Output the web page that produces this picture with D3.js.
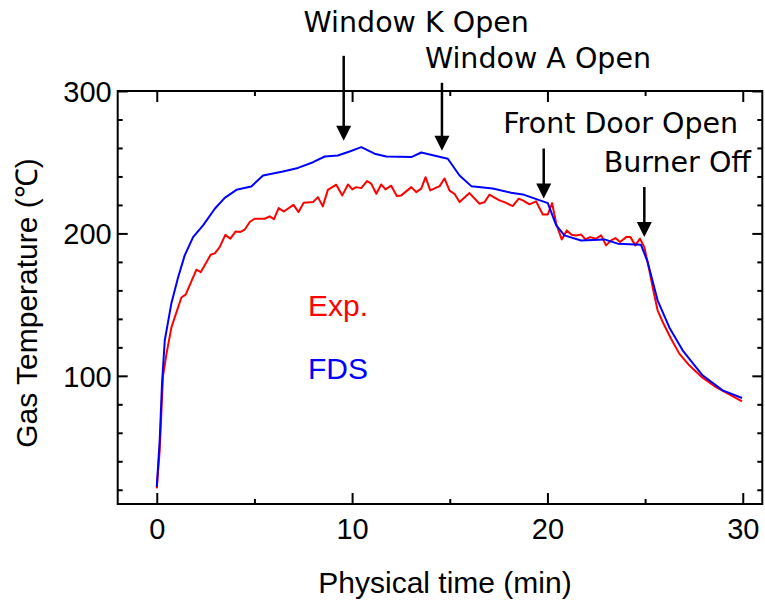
<!DOCTYPE html>
<html>
<head>
<meta charset="utf-8">
<script src="https://cdn.jsdelivr.net/npm/d3@7"></script>
<style>
  body { margin: 0; background: #fff; }
  .tick text { font-family: "Liberation Sans", Arial, sans-serif; font-size: 29px; fill: #000; }
  .tick line { stroke: #000; stroke-width: 2; }
</style>
</head>
<body>
<div id="chart"></div>
<script>
// Exp. series (time in min, temperature in degC)
var expTime = [0, 0.15, 0.32, 0.5, 0.75, 1.26, 1.48, 2.03, 2.25, 2.76, 2.97, 3.22, 3.51, 3.77, 4.04, 4.28, 4.5, 4.76, 5.01, 5.52, 5.78, 6.0, 6.24, 6.5, 7.0, 7.26, 7.52, 8.0, 8.25, 8.5, 8.76, 9.19, 9.5, 9.79, 10.01, 10.21, 10.47, 10.76, 10.98, 11.24, 11.49, 11.71, 12.0, 12.29, 12.52, 13.03, 13.28, 13.54, 13.76, 14.0, 14.48, 14.73, 14.99, 15.24, 15.5, 16.01, 16.52, 16.78, 17.03, 17.54, 17.8, 18.22, 18.53, 18.74, 19.08, 19.42, 19.76, 20.02, 20.24, 20.45, 20.73, 20.99, 21.24, 21.47, 21.72, 21.94, 22.18, 22.49, 22.75, 23.0, 23.26, 23.48, 23.72, 24.03, 24.25, 24.5, 24.74, 24.96, 25.22, 25.42, 25.64, 25.9, 26.33, 26.75, 27.26, 27.94, 28.63, 29.31, 29.96];
var expTemp = [21, 47.7, 100, 115.6, 134, 155, 157, 174.5, 172.8, 185, 186, 190.4, 199, 196.3, 201.4, 201, 202.6, 208, 210.3, 210.3, 212, 210, 217.8, 215.4, 220, 215, 221.5, 222, 225.5, 219, 230.6, 234.2, 226.7, 234.4, 230.9, 232.5, 231.8, 236.7, 234.9, 227.8, 234.4, 230.9, 233.5, 226.2, 226.7, 232.5, 229, 231.4, 239.5, 230.2, 233.2, 238.6, 230, 227.8, 222, 228.3, 220.8, 222, 227.2, 223.2, 222, 219.2, 224.4, 223.2, 220.4, 222.5, 213.3, 213.3, 221.3, 206.8, 195.8, 202.1, 199, 198.6, 199.3, 195.8, 197.4, 196.3, 198.6, 191.6, 195.1, 196.7, 193.9, 197.4, 197.4, 191.6, 196.3, 190.4, 174, 160, 146, 137.8, 126, 115.6, 107.4, 98.7, 92.1, 87, 82.1];

// FDS series
var fdsTime = [0, 0.15, 0.27, 0.41, 0.75, 1.09, 1.43, 1.86, 2.37, 2.97, 3.48, 4.08, 4.84, 5.44, 6.46, 7.23, 8.0, 8.6, 9.27, 9.87, 10.47, 11.15, 11.75, 13.03, 13.54, 14.9, 15.5, 16.1, 17.2, 18.14, 18.74, 20.02, 20.45, 20.87, 21.72, 22.92, 23.6, 24.79, 25.13, 25.64, 26.24, 26.92, 27.94, 28.97, 29.96];
var fdsTemp = [22, 54.7, 95, 125, 151, 169, 184.6, 197.4, 205.6, 217.3, 225, 230.6, 233, 240.7, 243.5, 246, 250, 254, 254.7, 257.5, 260.6, 256, 254, 253.6, 256.8, 252.4, 240.7, 233.2, 231.6, 228.5, 227.4, 221.3, 205.6, 198.6, 195, 195.8, 192.8, 192, 180, 153, 134, 117.9, 100.4, 89.8, 84.4];

// events marked with arrows
var eventNames = ["Window K Open", "Window A Open", "Front Door Open", "Burner Off"];
var eventTime = [9.57, 14.6, 19.81, 24.96];
var eventTip = [265, 258, 224.5, 197.5];

var xMajor = [0, 10, 20, 30], xMinor = [5, 15, 25];
var yMajor = [100, 200, 300], yMinor = [20, 40, 60, 80, 120, 140, 160, 180, 220, 240, 260, 280];

var width = 765, height = 600;
var plotLeft = 117.7, plotRight = 762.3, plotTop = 91, plotBottom = 504;

var x = d3.scaleLinear().domain([-2, 31]).range([plotLeft, plotRight]);
var y = d3.scaleLinear().domain([10, 300]).range([plotBottom, plotTop]);

var svg = d3.select("#chart").append("svg")
  .attr("width", width)
  .attr("height", height)
  .style("background", "#fff");

// ticks on all four sides, pointing inward
function tickAxis(axis, vals, size, labels) {
  return axis.tickValues(vals).tickSizeInner(-size).tickSizeOuter(0)
    .tickFormat(labels ? d3.format("d") : "");
}

var gB = svg.append("g").attr("transform", "translate(0," + plotBottom + ")");
gB.call(tickAxis(d3.axisBottom(x), xMajor, 11, true).tickPadding(14.5));
gB.append("g").call(tickAxis(d3.axisBottom(x), xMinor, 5, false));

var gT = svg.append("g").attr("transform", "translate(0," + plotTop + ")");
gT.call(tickAxis(d3.axisTop(x), xMajor, 11, false));
gT.append("g").call(tickAxis(d3.axisTop(x), xMinor, 5, false));

var gL = svg.append("g").attr("transform", "translate(" + plotLeft + ",0)");
gL.call(tickAxis(d3.axisLeft(y), yMajor, 10, true).tickPadding(6));
gL.append("g").call(tickAxis(d3.axisLeft(y), yMinor, 5, false));
gL.selectAll("text").attr("dy", "0.36em");

var gR = svg.append("g").attr("transform", "translate(" + plotRight + ",0)");
gR.call(tickAxis(d3.axisRight(y), yMajor, 10, false));
gR.append("g").call(tickAxis(d3.axisRight(y), yMinor, 5, false));

svg.selectAll(".domain").remove();

svg.append("rect")
  .attr("x", plotLeft).attr("y", plotTop)
  .attr("width", plotRight - plotLeft).attr("height", plotBottom - plotTop)
  .attr("fill", "none").attr("stroke", "#000").attr("stroke-width", 2);

// lines
var line = d3.line().x(d => x(d[0])).y(d => y(d[1]));

svg.append("path")
  .datum(d3.zip(expTime, expTemp))
  .attr("fill", "none").attr("stroke", "#ff0000").attr("stroke-width", 2)
  .attr("stroke-linejoin", "round")
  .attr("d", line);

svg.append("path")
  .datum(d3.zip(fdsTime, fdsTemp))
  .attr("fill", "none").attr("stroke", "#0000ff").attr("stroke-width", 2)
  .attr("stroke-linejoin", "round")
  .attr("d", line);

// legend text
svg.append("text").attr("x", 308).attr("y", 316)
  .attr("fill", "#ff0000").style("font-family", "'Liberation Sans', Arial, sans-serif")
  .style("font-size", "30px").text("Exp.");
svg.append("text").attr("x", 308).attr("y", 379)
  .attr("fill", "#0000ff").style("font-family", "'Liberation Sans', Arial, sans-serif")
  .style("font-size", "30px").text("FDS");

// axis titles
svg.append("text").attr("x", (plotLeft + plotRight) / 2 + 5).attr("y", 593)
  .attr("text-anchor", "middle")
  .style("font-family", "'Liberation Sans', Arial, sans-serif").style("font-size", "30px")
  .text("Physical time (min)");

svg.append("text")
  .attr("transform", "translate(37," + 303 + ") rotate(-90)")
  .attr("text-anchor", "middle")
  .style("font-family", "'Liberation Sans', Arial, sans-serif").style("font-size", "30px")
  .text("Gas Temperature (\u2103)");

// event arrows: arrow length and label offset (layout)
var arrowLen = [85, 68, 50, 50];
var labelDx = [72.5, 96, 77, 33];
var labelY = [31.7, 68, 133.3, 171.7];
var head = 15;

eventNames.forEach(function (name, i) {
  var ax = x(eventTime[i]), tip = y(eventTip[i]);
  svg.append("line")
    .attr("x1", ax).attr("x2", ax)
    .attr("y1", tip - arrowLen[i]).attr("y2", tip - head + 1)
    .attr("stroke", "#000").attr("stroke-width", 2.5);
  svg.append("path")
    .attr("d", "M" + (ax - 7.5) + "," + (tip - head) + "L" + (ax + 7.5) + "," + (tip - head) + "L" + ax + "," + tip + "Z")
    .attr("fill", "#000");
  svg.append("text")
    .attr("x", ax + labelDx[i]).attr("y", labelY[i])
    .attr("text-anchor", "middle")
    .style("font-family", "'DejaVu Sans', Verdana, sans-serif").style("font-size", "28.5px")
    .text(name);
});
</script>
</body>
</html>
